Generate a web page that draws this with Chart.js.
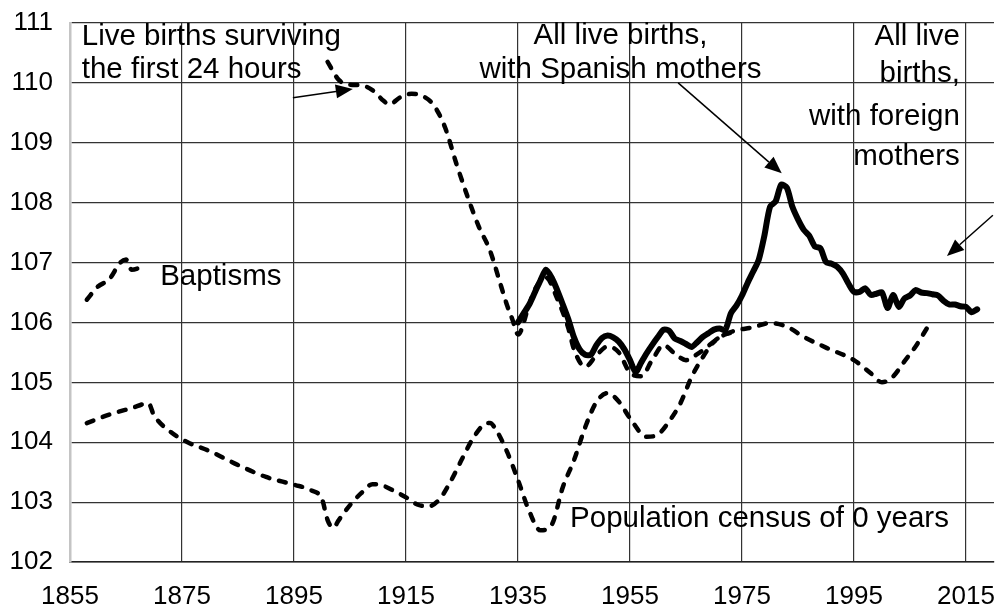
<!DOCTYPE html>
<html>
<head>
<meta charset="utf-8">
<script src="https://cdn.jsdelivr.net/npm/chart.js@4/dist/chart.umd.min.js"></script>
<style>
  body { margin: 0; background: #fff; }
  #wrap { width: 1001px; height: 607px; }
</style>
</head>
<body>
<div id="wrap"><canvas id="myChart"></canvas></div>
<script>
// x axis tick labels
const tickYears = [1855, 1875, 1895, 1915, 1935, 1955, 1975, 1995, 2015];

// All live births (solid line)
const allYears = [1935, 1936, 1937, 1938, 1939, 1940, 1941, 1942, 1943, 1944, 1945, 1946, 1947, 1948, 1949,
  1950, 1951, 1952, 1953, 1954, 1955, 1956, 1957, 1958, 1959, 1960, 1961, 1962, 1963, 1964, 1965, 1966,
  1967, 1968, 1969, 1970, 1971, 1972, 1973, 1974, 1975, 1976, 1977, 1978, 1979, 1980, 1981, 1982, 1983,
  1984, 1985, 1986, 1987, 1988, 1989, 1990, 1991, 1992, 1993, 1994, 1995, 1996, 1997, 1998, 1999, 2000,
  2001, 2002, 2003, 2004, 2005, 2006, 2007, 2008, 2009, 2010, 2011, 2012, 2013, 2014, 2015, 2016, 2017];
const allValues = [106.0, 106.15, 106.3, 106.5, 106.7, 106.88, 106.75, 106.54, 106.3, 106.05, 105.75, 105.55,
  105.46, 105.46, 105.62, 105.74, 105.78, 105.75, 105.68, 105.55, 105.37, 105.17, 105.33, 105.49, 105.63,
  105.76, 105.88, 105.86, 105.73, 105.69, 105.64, 105.59, 105.67, 105.76, 105.82, 105.88, 105.9, 105.87,
  106.15, 106.28, 106.45, 106.66, 106.85, 107.05, 107.45, 107.93, 108.02, 108.3, 108.25, 107.93, 107.72,
  107.55, 107.45, 107.27, 107.24, 107.01, 106.98, 106.93, 106.82, 106.65, 106.51, 106.51, 106.57, 106.46,
  106.48, 106.5, 106.24, 106.46, 106.26, 106.4, 106.45, 106.54, 106.5, 106.49, 106.47, 106.45, 106.36,
  106.3, 106.3, 106.27, 106.26, 106.17, 106.22];

// Live births surviving the first 24 hours (dashed)
const surviveYears = [1901, 1903, 1905, 1907, 1909, 1911, 1912, 1914, 1916, 1918, 1920, 1922, 1924, 1926,
  1928, 1930, 1932, 1933, 1934, 1935, 1937, 1938, 1940, 1942, 1944, 1945, 1947, 1949, 1951, 1953, 1955,
  1957, 1959, 1961, 1963, 1965, 1967, 1970, 1972, 1974];
const surviveValues = [110.35, 110.05, 109.97, 109.96, 109.88, 109.7, 109.64, 109.76, 109.82, 109.78, 109.62,
  109.25, 108.65, 108.1, 107.6, 107.2, 106.6, 106.3, 106.05, 105.8, 106.3, 106.55, 106.75, 106.4, 105.9,
  105.55, 105.26, 105.45, 105.6, 105.5, 105.16, 105.1, 105.38, 105.62, 105.48, 105.37, 105.47, 105.68,
  105.8, 105.84];

// Population census of 0 years (dashed)
const censusYears = [1858, 1862, 1866, 1869, 1870, 1873, 1876, 1880, 1885, 1890, 1895, 1898, 1900, 1901,
  1902, 1903, 1905, 1907, 1909, 1911, 1913, 1915, 1917, 1919, 1921, 1923, 1925, 1927, 1929, 1930, 1931,
  1933, 1935, 1937, 1939, 1941, 1943, 1945, 1947, 1949, 1951, 1953, 1955, 1958, 1960, 1962, 1964, 1966,
  1968, 1970, 1973, 1977, 1980, 1983, 1986, 1990, 1995, 1998, 2000, 2002, 2004, 2006, 2008];
const censusValues = [104.32, 104.46, 104.57, 104.65, 104.45, 104.17, 104.0, 103.85, 103.62, 103.42, 103.29,
  103.2, 103.05, 102.7, 102.57, 102.7, 102.95, 103.15, 103.3, 103.27, 103.18, 103.08, 102.96, 102.93,
  103.05, 103.35, 103.72, 104.07, 104.3, 104.32, 104.22, 103.85, 103.37, 102.85, 102.53, 102.62, 103.25,
  103.7, 104.25, 104.67, 104.82, 104.68, 104.4, 104.09, 104.13, 104.35, 104.65, 105.09, 105.42, 105.68,
  105.84, 105.92, 105.99, 105.93, 105.76, 105.58, 105.37, 105.15, 105.0, 105.1, 105.35, 105.6, 105.9];

// Baptisms (dashed)
const baptismYears = [1858, 1860, 1862, 1864, 1865, 1866, 1867, 1868];
const baptismValues = [106.38, 106.6, 106.72, 107.0, 107.05, 106.88, 106.9, 106.95];

// text labels, in data units
const labelTexts = ['Live births surviving', 'the first 24 hours', 'All live births,', 'with Spanish mothers',
  'All live', 'births,', 'with foreign', 'mothers', 'Baptisms', 'Population census of 0 years'];
const labelX = [1857.1, 1857.1, 1953.3, 1953.3, 2013.9, 2013.9, 2013.9, 2013.9, 1871.1, 1944.3];
const labelY = [110.63, 110.08, 110.65, 110.08, 110.63, 110.01, 109.3, 108.63, 106.62, 102.58];
const labelAlign = ['left', 'left', 'center', 'center', 'right', 'right', 'right', 'right', 'left', 'left'];

// arrows: from -> to, in data units
const arrowFrom = [[1894.8, 109.75], [1963.6, 110.0], [2019.8, 107.79]];
const arrowTo = [[1905.5, 109.9], [1982.1, 108.49], [2011.6, 107.11]];

const toPoints = (xs, ys) => xs.map((x, i) => ({ x: x, y: ys[i] }));

const dashed = {
  borderColor: '#000',
  borderWidth: 4.5,
  borderDash: [7, 10],
  borderCapStyle: 'round',
  pointRadius: 0,
  fill: false,
  cubicInterpolationMode: 'monotone'
};

const annotations = {
  id: 'annotations',
  afterDraw(chart) {
    const ctx = chart.ctx;
    const xs = chart.scales.x, ys = chart.scales.y;
    ctx.save();
    ctx.fillStyle = '#000';
    ctx.font = '29.5px "Liberation Sans", Arial, sans-serif';
    ctx.textBaseline = 'alphabetic';
    labelTexts.forEach((t, i) => {
      ctx.textAlign = labelAlign[i];
      ctx.fillText(t, xs.getPixelForValue(labelX[i]), ys.getPixelForValue(labelY[i]));
    });
    ctx.strokeStyle = '#000';
    ctx.lineWidth = 1.5;
    arrowFrom.forEach((f, i) => {
      const x1 = xs.getPixelForValue(f[0]), y1 = ys.getPixelForValue(f[1]);
      const x2 = xs.getPixelForValue(arrowTo[i][0]), y2 = ys.getPixelForValue(arrowTo[i][1]);
      const a = Math.atan2(y2 - y1, x2 - x1);
      const len = 17, half = 7;
      const bx = x2 - len * Math.cos(a), by = y2 - len * Math.sin(a);
      ctx.beginPath();
      ctx.moveTo(x1, y1);
      ctx.lineTo(bx, by);
      ctx.stroke();
      ctx.beginPath();
      ctx.moveTo(x2, y2);
      ctx.lineTo(bx + half * Math.sin(a), by - half * Math.cos(a));
      ctx.lineTo(bx - half * Math.sin(a), by + half * Math.cos(a));
      ctx.closePath();
      ctx.fill();
    });
    ctx.restore();
  }
};

const ctx = document.getElementById('myChart');
const chart = new Chart(ctx, {
  type: 'line',
  data: {
    datasets: [
      {
        label: 'All live births',
        data: toPoints(allYears, allValues),
        borderColor: '#000',
        borderWidth: 6,
        borderJoinStyle: 'round',
        borderCapStyle: 'round',
        pointRadius: 0,
        fill: false,
        tension: 0.25
      },
      Object.assign({ label: 'Live births surviving the first 24 hours', data: toPoints(surviveYears, surviveValues) }, dashed),
      Object.assign({ label: 'Population census of 0 years', data: toPoints(censusYears, censusValues) }, dashed),
      Object.assign({ label: 'Baptisms', data: toPoints(baptismYears, baptismValues) }, dashed)
    ]
  },
  options: {
    responsive: true,
    maintainAspectRatio: false,
    animation: false,
    layout: { padding: { top: 23, right: 7, left: 0, bottom: 0 } },
    plugins: { legend: { display: false }, tooltip: { enabled: false } },
    scales: {
      x: {
        type: 'linear',
        min: 1855,
        max: 2020,
        afterBuildTicks: scale => { scale.ticks = tickYears.map(v => ({ value: v })); },
        afterFit: scale => {
          scale.height = 45;
          scale.paddingLeft = 0;
          scale.paddingRight = 0;
        },
        grid: {
          color: c => (c.tick && c.tick.value === 1855) ? 'rgba(0,0,0,0)' : '#333',
          lineWidth: 1.2,
          drawTicks: false
        },
        border: { color: '#222', width: 1.5 },
        ticks: {
          color: '#000',
          padding: 19,
          maxRotation: 0,
          font: { family: '"Liberation Sans", Arial, sans-serif', size: 26 },
          callback: v => String(v)
        }
      },
      y: {
        min: 102,
        max: 111,
        afterFit: scale => {
          scale.width = 70;
          scale.paddingTop = 0;
          scale.paddingBottom = 0;
        },
        grid: { color: '#333', lineWidth: 1.2, drawTicks: false },
        border: { color: '#c4c4c4', width: 2.5 },
        ticks: {
          stepSize: 1,
          color: '#000',
          padding: 17,
          font: { family: '"Liberation Sans", Arial, sans-serif', size: 26 }
        }
      }
    }
  },
  plugins: [annotations]
});
</script>
</body>
</html>
